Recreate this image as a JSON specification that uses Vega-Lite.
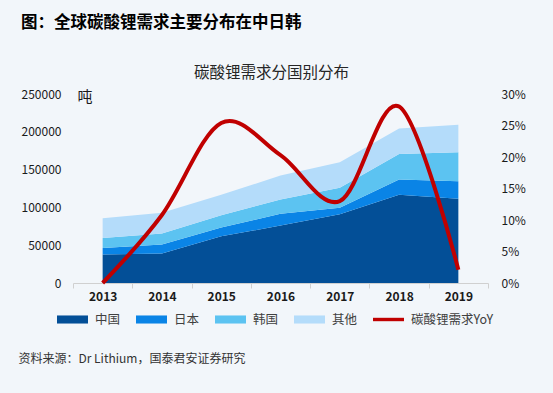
{
  "$schema": "https://vega.github.io/schema/vega-lite/v6.json",
  "autosize": {"type": "none"},
  "width": 415,
  "height": 189,
  "padding": {"left": 73, "top": 94, "right": 65, "bottom": 110},
  "background": "#F2F6FA",
  "config": {
    "font": "Noto Sans CJK SC",
    "view": {"stroke": null}
  },
  "title": {
    "text": "图：全球碳酸锂需求主要分布在中日韩",
    "anchor": "start",
    "frame": "group",
    "dx": -52,
    "dy": -26,
    "fontSize": 16.5,
    "fontWeight": "bold",
    "color": "#000000",
    "baseline": "middle",
    "offset": 0
  },
  "datasets": {
    "demand": [
      {"year": "2013", "country": "中国", "ord": 1, "value": 37800},
      {"year": "2014", "country": "中国", "ord": 1, "value": 39000},
      {"year": "2015", "country": "中国", "ord": 1, "value": 61800},
      {"year": "2016", "country": "中国", "ord": 1, "value": 75900},
      {"year": "2017", "country": "中国", "ord": 1, "value": 90800},
      {"year": "2018", "country": "中国", "ord": 1, "value": 116700},
      {"year": "2019", "country": "中国", "ord": 1, "value": 111400},
      {"year": "2013", "country": "日本", "ord": 2, "value": 8600},
      {"year": "2014", "country": "日本", "ord": 2, "value": 11900},
      {"year": "2015", "country": "日本", "ord": 2, "value": 11500},
      {"year": "2016", "country": "日本", "ord": 2, "value": 15800},
      {"year": "2017", "country": "日本", "ord": 2, "value": 8800},
      {"year": "2018", "country": "日本", "ord": 2, "value": 20100},
      {"year": "2019", "country": "日本", "ord": 2, "value": 23200},
      {"year": "2013", "country": "韩国", "ord": 3, "value": 13200},
      {"year": "2014", "country": "韩国", "ord": 3, "value": 14500},
      {"year": "2015", "country": "韩国", "ord": 3, "value": 16200},
      {"year": "2016", "country": "韩国", "ord": 3, "value": 18800},
      {"year": "2017", "country": "韩国", "ord": 3, "value": 26300},
      {"year": "2018", "country": "韩国", "ord": 3, "value": 33800},
      {"year": "2019", "country": "韩国", "ord": 3, "value": 38200},
      {"year": "2013", "country": "其他", "ord": 4, "value": 25900},
      {"year": "2014", "country": "其他", "ord": 4, "value": 27600},
      {"year": "2015", "country": "其他", "ord": 4, "value": 27200},
      {"year": "2016", "country": "其他", "ord": 4, "value": 31600},
      {"year": "2017", "country": "其他", "ord": 4, "value": 33700},
      {"year": "2018", "country": "其他", "ord": 4, "value": 33800},
      {"year": "2019", "country": "其他", "ord": 4, "value": 36400}
    ],
    "yoy": [
      {"year": "2013", "series": "碳酸锂需求YoY", "yoy": 0.0},
      {"year": "2014", "series": "碳酸锂需求YoY", "yoy": 0.108},
      {"year": "2015", "series": "碳酸锂需求YoY", "yoy": 0.254},
      {"year": "2016", "series": "碳酸锂需求YoY", "yoy": 0.203},
      {"year": "2017", "series": "碳酸锂需求YoY", "yoy": 0.13},
      {"year": "2018", "series": "碳酸锂需求YoY", "yoy": 0.28},
      {"year": "2019", "series": "碳酸锂需求YoY", "yoy": 0.021}
    ]
  },
  "layer": [
    {
      "data": {"name": "demand"},
      "mark": {"type": "area"},
      "encoding": {
        "x": {
          "field": "year",
          "type": "ordinal",
          "bandPosition": 0.5,
          "scale": {"type": "band", "paddingInner": 0, "paddingOuter": 0},
          "axis": {
            "orient": "bottom",
            "labelAngle": 0,
            "labelFontSize": 12,
            "labelFontWeight": "bold",
            "labelColor": "#1a1a1a",
            "labelPadding": 3,
            "domainColor": "#d0d0d0",
            "tickColor": "#d0d0d0",
            "tickSize": 5,
            "tickBand": "extent",
            "grid": false,
            "title": "资料来源：Dr Lithium，国泰君安证券研究",
            "titleX": -55,
            "titleY": 75,
            "titleAlign": "left",
            "titleBaseline": "middle",
            "titleFontSize": 12,
            "titleFontWeight": "normal",
            "titleColor": "#333333"
          }
        },
        "y": {
          "field": "value",
          "type": "quantitative",
          "stack": "zero",
          "scale": {"domain": [0, 250000], "nice": false},
          "axis": {
            "orient": "left",
            "values": [0, 50000, 100000, 150000, 200000, 250000],
            "format": "d",
            "domain": false,
            "ticks": false,
            "grid": false,
            "labelPadding": 12,
            "labelFontSize": 12,
            "labelColor": "#1a1a1a",
            "title": "吨",
            "titleAngle": 0,
            "titleX": 4,
            "titleY": 2,
            "titleAlign": "left",
            "titleBaseline": "middle",
            "titleFontSize": 15,
            "titleFontWeight": "normal",
            "titleColor": "#1a1a1a"
          }
        },
        "color": {
          "field": "country",
          "type": "nominal",
          "scale": {
            "domain": ["中国", "日本", "韩国", "其他", "碳酸锂需求YoY"],
            "range": ["#034F97", "#0A84E6", "#5CC3F1", "#B4DCFA", "#C00000"]
          },
          "legend": {
            "title": null,
            "orient": "none",
            "direction": "horizontal",
            "legendX": -16,
            "legendY": 210,
            "symbolSize": 961,
            "symbolStrokeWidth": 0,
            "labelFontSize": 12.5,
            "labelColor": "#404040",
            "labelOffset": 7,
            "columnPadding": 15,
            "encode": {
              "symbols": {
                "update": {
                  "shape": {"signal": "datum.value === '碳酸锂需求YoY' ? 'M-1,-0.11H1V0.11H-1Z' : 'M-1,-0.26H1V0.26H-1Z'"},
                  "fill": {"scale": "color", "field": "value"},
                  "fillOpacity": {"value": 1},
                  "stroke": {"value": "transparent"}
                }
              }
            }
          }
        },
        "order": {"field": "ord", "type": "quantitative"}
      }
    },
    {
      "data": {"name": "yoy"},
      "mark": {"type": "line", "interpolate": "cardinal", "strokeWidth": 4},
      "encoding": {
        "x": {
          "field": "year",
          "type": "ordinal",
          "bandPosition": 0.5,
          "axis": {
            "orient": "top",
            "labels": false,
            "ticks": false,
            "domain": false,
            "grid": false,
            "title": "碳酸锂需求分国别分布",
            "titleX": 198,
            "titleY": -22,
            "titleAlign": "center",
            "titleBaseline": "middle",
            "titleFontSize": 15.5,
            "titleFontWeight": "normal",
            "titleColor": "#262626"
          }
        },
        "y": {
          "field": "yoy",
          "type": "quantitative",
          "scale": {"domain": [0, 0.3], "nice": false},
          "axis": {
            "orient": "right",
            "values": [0, 0.05, 0.1, 0.15, 0.2, 0.25, 0.3],
            "format": ".0%",
            "domain": false,
            "ticks": false,
            "grid": false,
            "labelPadding": 13,
            "labelFontSize": 12,
            "labelColor": "#1a1a1a",
            "title": null
          }
        },
        "color": {"field": "series", "type": "nominal"}
      }
    }
  ],
  "resolve": {"scale": {"y": "independent"}, "axis": {"x": "independent"}}
}
